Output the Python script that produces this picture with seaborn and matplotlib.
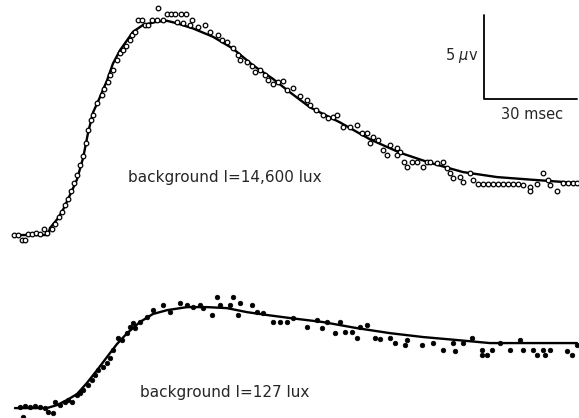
import numpy as np
import pandas as pd
import matplotlib
matplotlib.use("Agg")
import matplotlib.pyplot as plt
import seaborn as sns

sns.set_theme(style="white")
plt.rcParams['font.family'] = ['DejaVu Sans']

# fitted curves (time in msec, response in microvolts)
high_fit_t = [0.0, 11.0, 11.6, 14.2, 15.8, 18.1, 20.3, 22.3, 23.9, 25.5, 27.7, 30.0, 31.9,
              34.2, 36.5, 38.4, 41.6, 46.1, 49.4, 52.6, 57.7, 64.2, 70.6, 77.1, 83.5, 89.0,
              95.5, 105.2, 114.8, 124.5, 134.2, 144.8, 155.8, 166.5, 181.6]
high_fit_v = [0.0, 0.0, 0.42, 1.0, 1.5, 2.4, 3.3, 4.6, 6.1, 7.3, 8.2, 9.2, 10.2,
              11.0, 11.6, 12.1, 12.5, 12.7, 12.75, 12.6, 12.3, 11.8, 11.1, 10.1, 9.3, 8.5,
              7.6, 6.7, 5.7, 4.9, 4.3, 3.75, 3.45, 3.3, 3.1]

low_fit_t = [0.3, 10.6, 13.9, 17.1, 20.3, 23.5, 26.8, 30.0, 33.2, 36.5, 40.6, 44.8, 49.4,
             55.8, 62.3, 68.7, 75.2, 81.6, 89.0, 99.7, 110.6, 121.3, 131.9, 142.9, 153.5,
             164.2, 181.6]
low_fit_v = [0.0, 0.0, 0.18, 0.48, 0.83, 1.49, 2.26, 3.04, 3.81, 4.46, 5.12, 5.60, 5.83,
             6.01, 6.01, 5.95, 5.71, 5.54, 5.36, 5.12, 4.76, 4.46, 4.23, 4.05, 3.87,
             3.87, 3.87]

# measured points
high_pts_t = [0.0, 1.3, 2.6, 3.5, 4.5, 5.8, 7.1, 8.4, 9.7, 10.6, 12.3, 13.2, 14.5, 15.5,
              16.5, 17.4, 18.4, 19.4, 20.3, 21.3, 22.3, 23.2, 23.9, 24.8, 25.5, 26.8,
              28.4, 29.0, 30.3, 31.0, 31.9, 33.2, 34.2, 35.2, 36.1, 37.4, 38.1, 39.0,
              40.0, 41.3, 42.3, 43.2, 44.5, 46.1, 46.5, 48.1, 49.4, 50.6, 51.9, 53.9,
              55.5, 52.6, 54.5, 57.4, 56.8, 59.4, 61.6, 63.2, 65.8, 67.1, 68.7, 70.6,
              72.3, 72.9, 75.2, 76.8, 77.7, 79.4, 81.0, 81.9, 83.5, 85.2, 86.8, 88.1,
              90.0, 92.3, 94.5, 95.5, 97.4, 99.7, 101.3, 102.9, 104.2, 106.1, 108.4,
              110.6, 112.3, 113.9, 114.8, 115.8, 117.4, 119.0, 120.3, 121.3, 123.5,
              124.5, 123.5, 125.8, 126.8, 128.4, 130.0, 131.9, 133.2, 134.2, 136.5,
              138.4, 139.7, 140.6, 141.6, 143.9, 144.8, 147.1, 148.1, 149.7, 151.3,
              152.9, 154.5, 156.1, 157.7, 159.4, 161.0, 162.6, 164.2, 166.5, 166.5,
              168.7, 170.6, 172.3, 172.9, 175.2, 177.1, 178.7, 180.3, 181.6]
high_pts_v = [0.0, 0.0, -0.3, -0.3, 0.06, 0.06, 0.12, 0.06, 0.36, 0.12, 0.36, 0.65, 1.07,
              1.37, 1.79, 2.14, 2.62, 3.10, 3.57, 4.17, 4.70, 5.48, 6.25, 6.85, 7.14,
              7.86, 8.33, 8.69, 9.11, 9.52, 9.82, 10.42, 10.83, 11.01, 11.25, 11.61,
              11.90, 12.08, 12.80, 12.80, 12.50, 12.50, 12.80, 12.80, 13.51, 12.80,
              13.15, 13.15, 13.15, 13.15, 13.15, 12.68, 12.62, 12.80, 12.50, 12.38,
              12.50, 12.08, 11.90, 11.61, 11.49, 11.13, 10.71, 10.42, 10.30, 10.06,
              9.70, 9.82, 9.52, 9.23, 8.99, 9.11, 9.17, 8.63, 8.75, 8.27, 8.04, 7.74,
              7.44, 7.14, 6.96, 7.02, 7.14, 6.43, 6.43, 6.55, 6.07, 6.07, 5.48, 5.83,
              5.65, 5.06, 4.76, 5.36, 5.18, 4.94, 4.76, 4.35, 4.05, 4.35, 4.35, 4.05,
              4.35, 4.35, 4.29, 4.35, 3.99, 3.69, 3.39, 3.45, 3.15, 3.69, 3.27, 3.04,
              3.04, 3.04, 3.04, 3.04, 3.04, 3.04, 3.04, 3.04, 2.98, 2.86, 2.62, 3.04,
              3.69, 3.27, 2.98, 2.62, 3.10, 3.10, 3.10, 3.10]

low_pts_t = [1.9, 3.5, 5.2, 6.8, 8.4, 10.0, 11.0, 12.6, 2.9, 13.2, 14.8, 16.5, 17.4, 18.7,
             20.3, 21.3, 22.3, 23.9, 25.2, 26.1, 27.1, 28.7, 30.0, 31.0, 31.9, 33.5,
             34.8, 36.5, 37.4, 38.4, 39.0, 40.6, 42.9, 44.8, 48.1, 50.3, 53.5, 55.8,
             57.7, 60.0, 61.0, 63.9, 65.5, 66.5, 69.7, 70.6, 72.3, 72.9, 76.8, 78.4,
             80.3, 83.5, 85.8, 88.1, 90.0, 94.5, 97.7, 99.4, 101.0, 103.5, 105.2,
             106.8, 109.0, 110.6, 111.6, 113.9, 116.5, 118.1, 121.3, 122.9, 126.1,
             126.8, 131.6, 135.2, 138.4, 142.3, 141.6, 144.8, 147.7, 151.0, 151.0,
             152.6, 154.2, 156.8, 160.0, 163.2, 164.2, 167.4, 168.7, 170.6, 171.3,
             172.9, 178.4, 180.0, 181.6]
low_pts_v = [0.06, 0.12, 0.06, 0.12, 0.06, 0.0, -0.24, -0.30, -0.54, 0.36, 0.18, 0.36,
             0.48, 0.36, 0.77, 0.89, 1.07, 1.37, 1.67, 1.96, 2.26, 2.44, 2.68, 2.98,
             3.45, 4.17, 4.05, 4.46, 4.82, 5.06, 4.76, 5.12, 5.42, 5.83, 6.13, 5.71,
             6.25, 6.13, 6.01, 6.13, 5.95, 5.54, 6.61, 6.13, 6.13, 6.61, 5.54, 6.25,
             6.13, 5.71, 5.65, 5.12, 5.12, 5.12, 5.36, 4.82, 5.24, 4.76, 5.12, 4.46,
             5.12, 4.52, 4.52, 4.17, 4.82, 4.94, 4.17, 4.11, 4.17, 3.87, 3.75, 4.05,
             3.75, 3.87, 3.45, 3.39, 3.87, 3.87, 4.17, 3.45, 3.15, 3.15, 3.45, 3.87,
             3.45, 4.05, 3.45, 3.45, 3.15, 3.45, 3.15, 3.45, 3.39, 3.15, 3.75]

labels = ["background I=14,600 lux", "background I=127 lux"]
low_offset = -10.3  # vertical shift of the lower trace

fig = plt.figure(figsize=(5.79, 4.18), dpi=100)
ax = fig.add_axes([0, 0, 1, 1])

hi_fit = pd.DataFrame({"t": high_fit_t, "v": high_fit_v})
lo_fit = pd.DataFrame({"t": low_fit_t, "v": np.array(low_fit_v) + low_offset})
hi_pts = pd.DataFrame({"t": high_pts_t, "v": high_pts_v})
lo_pts = pd.DataFrame({"t": low_pts_t, "v": np.array(low_pts_v) + low_offset})

for fit in (hi_fit, lo_fit):
    sns.lineplot(data=fit, x="t", y="v", ax=ax, color="black", lw=1.7,
                 sort=False, estimator=None)

sns.scatterplot(data=hi_pts, x="t", y="v", ax=ax, s=11, facecolor="white",
                edgecolor="black", linewidth=0.9, marker="o", zorder=3)
sns.scatterplot(data=lo_pts, x="t", y="v", ax=ax, s=11, color="black",
                edgecolor="black", linewidth=0.5, marker="o", zorder=3)

# scale bar
ax.plot([151.6, 151.6, 181.6], [13.1, 8.1, 8.1], color="black", lw=1.3)
ax.text(149.7, 10.7, r"5 $\mu$v", ha="right", va="center", fontsize=10.5)
ax.text(167.1, 7.2, "30 msec", ha="center", va="center", fontsize=10.5)

ax.text(68.1, 3.45, labels[0], ha="center", va="center", fontsize=11)
ax.text(68.1, -9.35, labels[1], ha="center", va="center", fontsize=11)

ax.set_xlim(-4.52, 182.26)
ax.set_ylim(-10.89, 13.99)
ax.axis("off")

fig.savefig("out.png", dpi=100, facecolor="white")
